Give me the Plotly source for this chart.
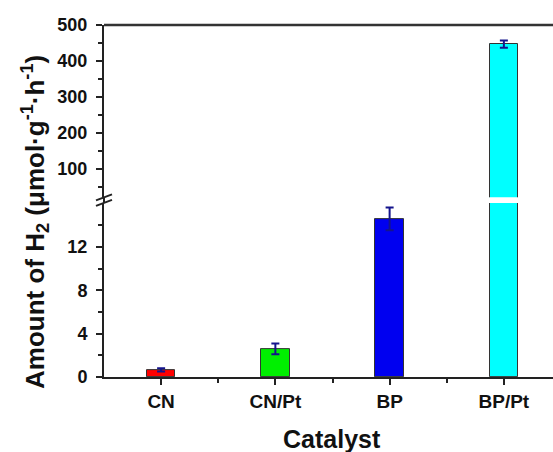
import plotly.graph_objects as go

# ---- data ----
categories = ["CN", "CN/Pt", "BP", "BP/Pt"]
h2_amount = [0.65, 2.6, 14.6, 447]
h2_error = [0.15, 0.5, 1.05, 10]
bar_colors = ["#FF0000", "#00F000", "#0000F0", "#00FFFF"]
lower_ticks = [0, 4, 8, 12]
lower_minor = [2, 6, 10, 14]
upper_ticks = [100, 200, 300, 400, 500]
upper_minor = [50, 150, 250, 350, 450]

xpos = list(range(len(categories)))

FONT = "Liberation Sans, Arial, sans-serif"
AX = "#222222"
W, H = 553, 452
L, R, T, B = 104, 0, 25, 75
PW, PH = W - L - R, H - T - B

lower_dom = [0, 0.494]
upper_dom = [0.511, 1.0]

fig = go.Figure()
for yax in ["y", "y2"]:
    fig.add_trace(go.Bar(
        x=xpos, y=h2_amount, yaxis=yax, width=0.25,
        marker=dict(color=bar_colors, line=dict(color="#333333", width=1)),
        error_y=dict(type="data", array=h2_error, visible=True,
                     color="#14148c", thickness=2, width=4),
        showlegend=False, hoverinfo="skip",
    ))

tickfont = dict(family=FONT, size=18, color="#111111")

fig.update_layout(
    width=W, height=H,
    margin=dict(l=L, r=R, t=T, b=B),
    paper_bgcolor="white", plot_bgcolor="white",
    bargap=0,
    xaxis=dict(
        range=[-0.5, 3.43], tickvals=xpos,
        ticktext=["<b>%s</b>" % c for c in categories],
        tickfont=dict(family=FONT, size=19, color="#111111"),
        showgrid=False, zeroline=False,
        showline=True, linecolor=AX, linewidth=2,
        ticks="outside", ticklen=6, tickwidth=2, tickcolor=AX,
        minor=dict(tickvals=[0.5, 1.5, 2.5], ticks="outside", ticklen=4,
                   tickwidth=2, tickcolor=AX, showgrid=False),
        anchor="y",
    ),
    yaxis=dict(
        domain=lower_dom, range=[0, 16.06],
        tickvals=lower_ticks, ticktext=["<b>%d</b>" % v for v in lower_ticks],
        tickfont=tickfont, ticklabelstandoff=5,
        showgrid=False, zeroline=False,
        showline=True, linecolor=AX, linewidth=2,
        ticks="outside", ticklen=6, tickwidth=2, tickcolor=AX,
        minor=dict(tickvals=lower_minor, ticks="outside", ticklen=4,
                   tickwidth=2, tickcolor=AX, showgrid=False),
    ),
    yaxis2=dict(
        domain=upper_dom, range=[22, 500],
        tickvals=upper_ticks, ticktext=["<b>%d</b>" % v for v in upper_ticks],
        tickfont=tickfont, ticklabelstandoff=5,
        showgrid=False, zeroline=False,
        showline=True, linecolor=AX, linewidth=2,
        ticks="outside", ticklen=6, tickwidth=2, tickcolor=AX,
        minor=dict(tickvals=upper_minor, ticks="outside", ticklen=4,
                   tickwidth=2, tickcolor=AX, showgrid=False),
        anchor="x",
    ),
)

px_x = 1.0 / PW
px_y = 1.0 / PH

shapes = []
# top frame line
shapes.append(dict(type="line", xref="paper", yref="paper", x0=0, x1=1, y0=1, y1=1,
                   line=dict(color="#333333", width=2.5)))
# axis line through the break
shapes.append(dict(type="line", xref="paper", yref="paper", x0=0, x1=0,
                   y0=lower_dom[1], y1=upper_dom[0], line=dict(color=AX, width=2)))
# break marks "//"
ymid = (lower_dom[1] + upper_dom[0]) / 2
for off in (-2.8, 2.8):
    shapes.append(dict(type="line", xref="paper", yref="paper",
                       x0=-8 * px_x, x1=8 * px_x,
                       y0=ymid + (off - 3) * px_y, y1=ymid + (off + 3) * px_y,
                       line=dict(color=AX, width=2)))
fig.update_layout(shapes=shapes)

fig.add_annotation(
    text="<b>Amount of H<sub>2</sub> (μmol·g<sup>-1</sup>·h<sup>-1</sup>)</b>",
    xref="paper", yref="paper", x=(35 - L) * px_x, y=(377 - 222) * px_y,
    textangle=-90, showarrow=False, xanchor="center", yanchor="middle",
    font=dict(family=FONT, size=26, color="#111111"),
)
fig.add_annotation(
    text="<b>Catalyst</b>",
    xref="paper", yref="paper", x=(332 - L) * px_x, y=(377 - 439) * px_y,
    showarrow=False, xanchor="center", yanchor="middle",
    font=dict(family=FONT, size=25, color="#111111"),
)

fig.write_html("out.html")
